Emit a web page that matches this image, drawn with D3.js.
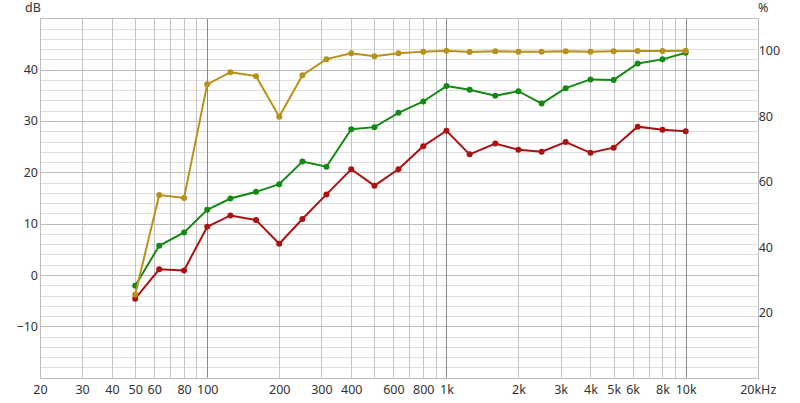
<!DOCTYPE html>
<html><head><meta charset="utf-8">
<script src="https://cdn.jsdelivr.net/npm/d3@7/dist/d3.min.js"></script>
<style>body{margin:0;background:#fff}</style>
</head><body><svg id="c" width="800" height="403"></svg>
<script>
const freqs = [50,63,80,100,125,160,200,250,315,400,500,630,800,1000,1250,1600,2000,2500,3150,4000,5000,6300,8000,10000];
const goldPct = [25.5,55.9,55.0,89.8,93.5,92.3,79.9,92.6,97.5,99.3,98.4,99.3,99.8,100.1,99.7,99.9,99.8,99.8,99.9,99.8,99.9,100,100,100.1];
const greenDb = [-2.1,5.7,8.3,12.7,14.9,16.2,17.7,22.1,21.1,28.4,28.8,31.6,33.8,36.8,36.1,34.9,35.8,33.4,36.4,38.1,38.0,41.2,42.0,43.3];
const redDb = [-4.6,1.1,0.9,9.4,11.6,10.7,6.1,10.9,15.7,20.6,17.4,20.6,25.1,28.1,23.5,25.6,24.4,24.0,25.9,23.8,24.8,28.9,28.3,28.0];
const xTicks = [20,30,40,50,60,80,100,200,300,400,600,800,1000,2000,3000,4000,5000,6000,8000,10000,20000];
const xTickLabels = ["20","30","40","50","60","80","100","200","300","400","600","800","1k","2k","3k","4k","5k","6k","8k","10k","20kHz"];
const leftTicks = [-10,0,10,20,30,40];
const rightTicks = [20,40,60,80,100];

const FONT = '"Noto Sans","Open Sans",sans-serif';
const FS = "12.5px";
const svg = d3.select("#c");
const L=40, R=757.7, T=18.3, B=377.7;
const x = d3.scaleLog().domain([20,20000]).range([L,R]);
const y = d3.scaleLinear().domain([-20,50]).range([B,T]);
const y2 = d3.scaleLinear().domain([0,110]).range([B,T]);

const vLines = [];
[10,100,1000,10000].forEach(d=>{for(let k=1;k<=9;k++){const f=d*k; if(f>=20&&f<=20000) vLines.push(f);}});
vLines.push(20000);
const g = svg.append("g");
d3.range(-20,51,2).forEach(v=>{
  const major = v%10===0;
  g.append("line").attr("x1",L).attr("x2",R).attr("y1",Math.round(y(v))+0.5).attr("y2",Math.round(y(v))+0.5)
   .attr("stroke", major?"#bdbdbd":"#dedede").attr("stroke-width",1);
});
vLines.forEach(f=>{
  const dec = [100,1000,10000].includes(f);
  g.append("line").attr("x1",Math.round(x(f))+0.5).attr("x2",Math.round(x(f))+0.5).attr("y1",T).attr("y2",B)
   .attr("stroke", dec?"#8a8a8a":"#c4c4c4").attr("stroke-width",1);
});
g.append("rect").attr("x",Math.round(L)+0.5).attr("y",Math.round(T)+0.5).attr("width",Math.round(R)-Math.round(L)).attr("height",Math.round(B)-Math.round(T))
 .attr("fill","none").attr("stroke","#bdbdbd");

const axX = d3.axisBottom(x).tickValues(xTicks).tickFormat((d,i)=>xTickLabels[i]).tickSize(0).tickPadding(7);
svg.append("g").attr("transform",`translate(0,${B})`).call(axX).call(a=>a.select(".domain").remove());
const axL = d3.axisLeft(y).tickValues(leftTicks).tickSize(0).tickPadding(2);
svg.append("g").attr("transform",`translate(${L},0)`).call(axL).call(a=>a.select(".domain").remove());
const axR = d3.axisRight(y2).tickValues(rightTicks).tickSize(0).tickPadding(1);
svg.append("g").attr("transform",`translate(${R},0)`).call(axR).call(a=>a.select(".domain").remove());
svg.append("text").attr("x",25).attr("y",12).text("dB");
svg.append("text").attr("x",758).attr("y",12).text("%");
svg.selectAll("text").style("font-family",FONT).style("font-size",FS).attr("fill","#333");

const series = [
  {vals: greenDb, sc: y, color:"#148a14"},
  {vals: redDb, sc: y, color:"#ad1212"},
  {vals: goldPct, sc: y2, color:"#b8911a"}
];
series.forEach(s=>{
  const pts = freqs.map((f,i)=>[x(f), s.sc(s.vals[i])]);
  svg.append("path").attr("d",d3.line()(pts)).attr("fill","none").attr("stroke",s.color).attr("stroke-width",2);
  svg.append("g").selectAll("circle").data(pts).join("circle").attr("cx",d=>d[0]).attr("cy",d=>d[1]).attr("r",3).attr("fill",s.color);
});
</script></body></html>
